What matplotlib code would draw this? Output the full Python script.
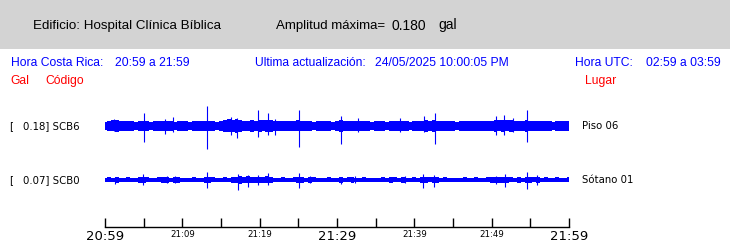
import numpy as np
import matplotlib
matplotlib.use("Agg")
import matplotlib.pyplot as plt

W, H = 730, 247

# time axis (minutes after 20:59) and envelope samples every half minute
t_env = np.arange(0, 60.5, 0.5)

# SCB6 (Piso 06) background envelope, gal
scb6_env = [
    0.034, 0.038, 0.042, 0.044, 0.040, 0.036, 0.035, 0.038, 0.034, 0.037, 0.041,
    0.036, 0.034, 0.039, 0.035, 0.038, 0.040, 0.036, 0.034, 0.038, 0.035,
    0.037, 0.034, 0.036, 0.039, 0.035, 0.038, 0.041, 0.036, 0.034, 0.040,
    0.045, 0.050, 0.046, 0.052, 0.044, 0.041, 0.040, 0.043, 0.041, 0.045,
    0.042, 0.047, 0.044, 0.040, 0.038, 0.036, 0.039, 0.035, 0.037, 0.042,
    0.038, 0.035, 0.037, 0.034, 0.036, 0.038, 0.035, 0.037, 0.034, 0.040,
    0.044, 0.038, 0.036, 0.039, 0.041, 0.037, 0.035, 0.038, 0.034, 0.036,
    0.035, 0.037, 0.034, 0.036, 0.038, 0.035, 0.040, 0.037, 0.034, 0.036,
    0.038, 0.040, 0.043, 0.040, 0.044, 0.038, 0.036, 0.039, 0.035, 0.037,
    0.034, 0.036, 0.038, 0.035, 0.037, 0.039, 0.036, 0.038, 0.035, 0.040,
    0.045, 0.042, 0.047, 0.042, 0.044, 0.039, 0.041, 0.038, 0.043, 0.040,
    0.038, 0.036, 0.039, 0.035, 0.037, 0.034, 0.038, 0.036, 0.035, 0.039,
]
# SCB6 spikes: minute, up, down (gal)
scb6_spk_t = [1.1, 5.0, 7.8, 8.8, 13.2, 16.3, 17.1, 19.8, 21.1, 22.0, 25.1,
              30.5, 32.7, 38.2, 41.3, 42.7, 50.5, 51.6, 52.8, 54.6]
scb6_spk_up = [0.054, 0.098, 0.050, 0.067, 0.155, 0.070, 0.060, 0.123, 0.098, 0.050, 0.123,
               0.077, 0.060, 0.064, 0.077, 0.100, 0.077, 0.087, 0.064, 0.123]
scb6_spk_dn = [0.040, 0.121, 0.064, 0.050, 0.180, 0.070, 0.090, 0.085, 0.069, 0.070, 0.159,
               0.138, 0.050, 0.050, 0.050, 0.138, 0.069, 0.069, 0.050, 0.123]

# SCB0 (Sotano 01) background envelope, gal
scb0_env = [
    0.017, 0.019, 0.018, 0.021, 0.018, 0.017, 0.019, 0.018, 0.017, 0.022, 0.024,
    0.019, 0.018, 0.017, 0.019, 0.022, 0.024, 0.018, 0.021, 0.023, 0.018,
    0.017, 0.018, 0.019, 0.017, 0.018, 0.020, 0.026, 0.019, 0.017, 0.018,
    0.019, 0.018, 0.020, 0.026, 0.030, 0.024, 0.027, 0.022, 0.025, 0.024,
    0.022, 0.027, 0.021, 0.018, 0.017, 0.019, 0.018, 0.017, 0.019, 0.024,
    0.020, 0.018, 0.022, 0.019, 0.017, 0.018, 0.017, 0.019, 0.018, 0.017,
    0.020, 0.018, 0.019, 0.022, 0.018, 0.017, 0.019, 0.018, 0.017, 0.018,
    0.017, 0.019, 0.018, 0.020, 0.019, 0.018, 0.021, 0.018, 0.017, 0.019,
    0.018, 0.024, 0.021, 0.019, 0.025, 0.020, 0.018, 0.019, 0.017, 0.018,
    0.017, 0.018, 0.019, 0.017, 0.018, 0.019, 0.017, 0.018, 0.019, 0.021,
    0.022, 0.020, 0.026, 0.022, 0.019, 0.018, 0.020, 0.018, 0.025, 0.021,
    0.019, 0.022, 0.018, 0.019, 0.017, 0.018, 0.019, 0.017, 0.018, 0.019,
]
scb0_spk_t = [1.3, 4.9, 8.0, 9.0, 13.2, 17.2, 18.5, 19.8, 21.1, 25.1, 26.5,
              30.5, 32.3, 38.8, 41.1, 42.6, 50.5, 51.7, 54.6, 55.8]
scb0_spk_up = [0.020, 0.044, 0.028, 0.028, 0.064, 0.044, 0.038, 0.038, 0.051, 0.051, 0.028,
               0.020, 0.028, 0.028, 0.046, 0.038, 0.030, 0.046, 0.059, 0.038]
scb0_spk_dn = [0.030, 0.038, 0.020, 0.020, 0.059, 0.077, 0.051, 0.038, 0.038, 0.059, 0.025,
               0.031, 0.020, 0.020, 0.059, 0.051, 0.030, 0.051, 0.069, 0.038]

codes = ["SCB6", "SCB0"]
places = ["Piso 06", "Sótano 01"]
peaks = [0.18, 0.07]
offsets = [0.0, -0.415]

tick_min = np.arange(0, 61, 5)
label_min = [0, 10, 20, 30, 40, 50, 60]
label_txt = ["20:59", "21:09", "21:19", "21:29", "21:39", "21:49", "21:59"]
big_labels = ["20:59", "21:29", "21:59"]

BLUE = "#0000ff"
RED = "#ff0000"
sans = ["Liberation Sans", "DejaVu Sans"]


def px(x, y):
    return x / W, 1 - y / H


fig = plt.figure(figsize=(W / 100, H / 100), dpi=100)
fig.patch.set_facecolor("white")

# grey header band
fig.patches.append(plt.Rectangle((0, 1 - 49 / H), 1, 49 / H, transform=fig.transFigure,
                                 facecolor="#d3d3d3", edgecolor="none", zorder=0))

fig.text(*px(33, 29.5), "Edificio: Hospital Clínica Bíblica", fontsize=9.6,
         family=sans, va="baseline")
fig.text(*px(276, 29.5), "Amplitud máxima=", fontsize=9.5, family=sans, va="baseline")
fig.text(*px(391, 29.5), "%.3f" % max(peaks), fontsize=10, family=sans, va="baseline")
fig.text(*px(438, 29.5), "gal", fontsize=10, family=sans, va="baseline")

row1 = [(11, "Hora Costa Rica:"), (115, "20:59 a 21:59"),
        (255, "Ultima actualización:"), (375, "24/05/2025 10:00:05 PM"),
        (575, "Hora UTC:"), (646, "02:59 a 03:59")]
for x, s in row1:
    fig.text(*px(x, 66), s, fontsize=8.7, family=sans, color=BLUE, va="baseline")
for x, s in [(10, "Gal"), (45, "Código"), (585, "Lugar")]:
    fig.text(*px(x, 84), s, fontsize=8.7, family=sans, color=RED, va="baseline")

# trace axes
ax = fig.add_axes([105 / W, 20 / H, 464 / W, 132 / H])
ax.set_xlim(0, 60)
ax.set_ylim(-0.777, 0.238)
for side in ["top", "left", "right"]:
    ax.spines[side].set_visible(False)
ax.spines["bottom"].set_linewidth(1.0)
ax.set_yticks([])
ax.patch.set_alpha(0)

traces = [(scb6_env, scb6_spk_t, scb6_spk_up, scb6_spk_dn),
          (scb0_env, scb0_spk_t, scb0_spk_up, scb0_spk_dn)]
for (env, st, su, sd), off in zip(traces, offsets):
    env = np.array(env)
    ax.fill_between(t_env, off - env, off + env, step="mid", color=BLUE, linewidth=0)
    ax.vlines(st, off - np.array(sd), off + np.array(su), color=BLUE, linewidth=0.8)

ax.set_xticks(tick_min)
ax.set_xticklabels(["" if m not in label_min else label_txt[label_min.index(m)]
                    for m in tick_min])
ax.tick_params(axis="x", direction="in", length=6.5, width=1.0, pad=2, color="black")
for lab in ax.get_xticklabels():
    lab.set_family("DejaVu Sans")
    lab.set_fontsize(9.5 if lab.get_text() in big_labels else 6.2)

# channel labels
for code, place, peak, off in zip(codes, places, peaks, offsets):
    y = H - ax.transData.transform((0, off))[1]
    fig.text(*px(9, y), "[", fontsize=7.3, family="DejaVu Sans", va="center")
    fig.text(*px(23, y), "%.2f] %s" % (peak, code), fontsize=7.3, family="DejaVu Sans",
             va="center")
    fig.text(*px(582, y), place, fontsize=7.3, family="DejaVu Sans", va="center")

fig.savefig("out.png", dpi=100)
